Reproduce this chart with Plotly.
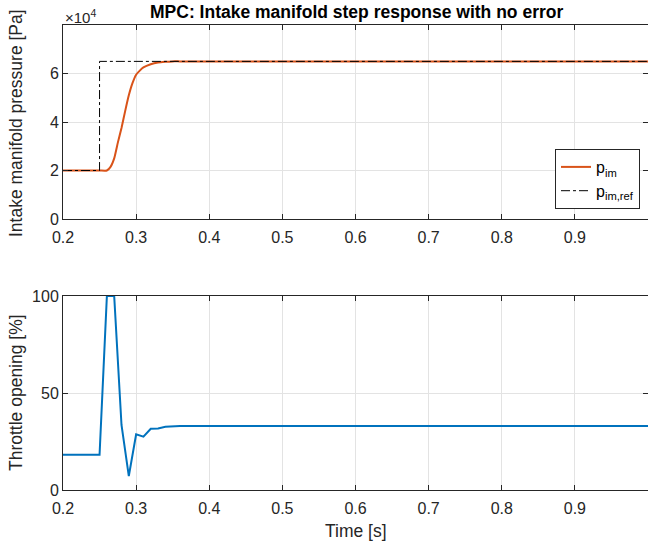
import plotly.graph_objects as go

# ---- data ----
t_pim = [0.20, 0.25, 0.26, 0.265, 0.27, 0.275, 0.28, 0.285, 0.29, 0.295, 0.30,
         0.305, 0.31, 0.32, 0.33, 0.34, 0.35, 0.36, 1.00]
p_im = [2.0e4, 2.0e4, 2.0e4, 2.15e4, 2.5e4, 3.15e4, 3.75e4, 4.45e4, 5.1e4, 5.6e4, 5.95e4,
        6.12e4, 6.25e4, 6.38e4, 6.45e4, 6.48e4, 6.5e4, 6.5e4, 6.5e4]

t_ref = [0.20, 0.25, 0.25, 1.00]
p_ref = [2.0e4, 2.0e4, 6.5e4, 6.5e4]

t_thr = [0.20, 0.25, 0.26, 0.27, 0.28, 0.29, 0.30, 0.31, 0.32, 0.33, 0.34, 0.36, 1.00]
thr = [18.2, 18.2, 100, 100, 33.5, 7.2, 28.7, 27.5, 31.6, 31.7, 32.6, 33.0, 33.0]

x_ticks = [0.2, 0.3, 0.4, 0.5, 0.6, 0.7, 0.8, 0.9, 1.0]
x_tick_text = ["0.2", "0.3", "0.4", "0.5", "0.6", "0.7", "0.8", "0.9", "1"]
p_ticks = [0, 2e4, 4e4, 6e4]
p_tick_text = ["0", "2", "4", "6"]
thr_ticks = [0, 50, 100]

FONT = "Liberation Sans, Arial, Helvetica, sans-serif"
AX = "#262626"
GRID = "#e3e3e3"
TICK = 16
LAB = 17.5

fig = go.Figure()
fig.add_trace(go.Scatter(x=t_pim, y=p_im, mode="lines", name="p<sub>im</sub>",
                         line=dict(color="#D95319", width=2, shape="spline", smoothing=0.5),
                         xaxis="x", yaxis="y"))
fig.add_trace(go.Scatter(x=t_ref, y=p_ref, mode="lines", name="p<sub>im,ref</sub>",
                         line=dict(color="#000000", width=1, dash="dashdot"), xaxis="x", yaxis="y"))
fig.add_trace(go.Scatter(x=t_thr, y=thr, mode="lines", showlegend=False,
                         line=dict(color="#0072BD", width=2), xaxis="x2", yaxis="y2"))

common = dict(showgrid=True, gridcolor=GRID, gridwidth=1, zeroline=False,
              showline=True, linecolor=AX, linewidth=1, mirror="ticks",
              ticks="inside", ticklen=5, tickcolor=AX, automargin=False,
              tickfont=dict(family=FONT, size=TICK, color=AX))
xcommon = dict(range=[0.2, 1.0], tickvals=x_ticks, ticktext=x_tick_text,
               domain=[63/648, 1.0], ticklabelstandoff=4, **common)

fig.update_layout(
    width=648, height=543, margin=dict(l=0, r=0, t=0, b=0, autoexpand=False),
    paper_bgcolor="white", plot_bgcolor="white",
    font=dict(family=FONT, color=AX),
    xaxis=dict(**xcommon, anchor="y"),
    yaxis=dict(range=[0, 8e4], tickvals=p_ticks, ticktext=p_tick_text,
               domain=[1 - 219/543, 1 - 25/543], anchor="x", **common),
    xaxis2=dict(**xcommon, anchor="y2"),
    yaxis2=dict(range=[0, 100], tickvals=thr_ticks, ticktext=[str(v) for v in thr_ticks],
                domain=[1 - 490/543, 1 - 296/543], anchor="x2", **common),
    legend=dict(x=640/648, xanchor="right", y=1 - 209/543, yanchor="bottom",
                bgcolor="white", bordercolor=AX, borderwidth=1,
                font=dict(family=FONT, size=16, color="#000000"),
                tracegroupgap=0, itemwidth=30),
    annotations=[
        dict(text="<b>MPC: Intake manifold step response with no error</b>", x=356/648, y=1 - 12/543,
             xref="paper", yref="paper", showarrow=False, xanchor="center", yanchor="middle",
             font=dict(family=FONT, size=LAB, color="#000000")),
        dict(text="×10<sup>4</sup>", x=63/648, y=1 - 16/543, xref="paper", yref="paper",
             showarrow=False, xanchor="left", yanchor="middle",
             font=dict(family=FONT, size=15, color=AX)),
        dict(text="Intake manifold pressure [Pa]", x=16/648, y=1 - 123/543, xref="paper", yref="paper",
             showarrow=False, textangle=-90, xanchor="center", yanchor="middle",
             font=dict(family=FONT, size=LAB, color=AX)),
        dict(text="Throttle opening [%]", x=16/648, y=1 - 393/543, xref="paper", yref="paper",
             showarrow=False, textangle=-90, xanchor="center", yanchor="middle",
             font=dict(family=FONT, size=LAB, color=AX)),
        dict(text="Time [s]", x=356/648, y=1 - 531/543, xref="paper", yref="paper",
             showarrow=False, xanchor="center", yanchor="middle",
             font=dict(family=FONT, size=LAB, color=AX)),
    ],
)

fig.write_html("out.html")
